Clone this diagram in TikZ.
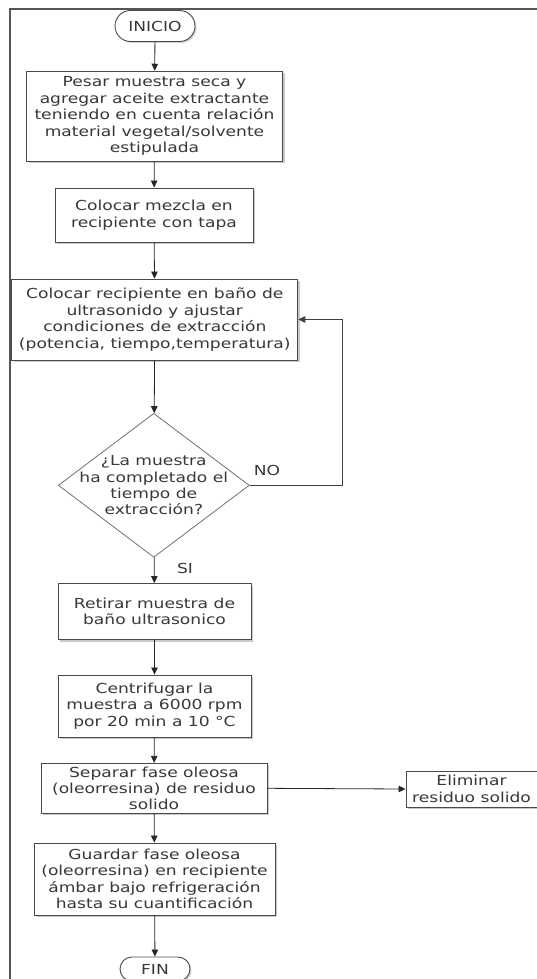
\documentclass[tikz,border=0pt]{standalone}
\usepackage{fontspec}
\setmainfont{DejaVu Sans}[FakeStretch=1.24]
\usetikzlibrary{arrows.meta,shapes.geometric,shapes.misc,shadows}
\definecolor{txt}{HTML}{383838}
\definecolor{bord}{HTML}{4A4A4A}
\definecolor{dbord}{HTML}{6E6E6E}
\definecolor{frame}{HTML}{555555}
\begin{document}
\begin{tikzpicture}[x=1pt,y=-1pt,
  every node/.style={font=\fontsize{13.8}{16.4}\selectfont, text=txt},
  proc/.style={draw=bord, line width=0.9pt, fill=white, align=center, inner sep=1pt,
    drop shadow={shadow xshift=2pt, shadow yshift=-2pt, fill=black!30, opacity=0.7}},
  term/.style={draw=bord, line width=0.9pt, fill=white, rounded rectangle, inner sep=1pt,
    drop shadow={shadow xshift=1.5pt, shadow yshift=-1.5pt, fill=black!30, opacity=0.6}},
  decision/.style={draw=dbord, line width=0.8pt, diamond, inner sep=0pt},
  lbl/.style={inner sep=0pt},
  arr/.style={draw=black!85, line width=0.8pt, -{Triangle[length=7pt,width=6.5pt]}},
]
\useasboundingbox (0,0) rectangle (537,979);
\draw[frame, line width=1.6pt] (537,9) -- (10,9) -- (10,985);

\node[term, minimum width=82pt, minimum height=31pt] (inicio) at (155,26) {INICIO};
\node[proc, minimum width=256pt, minimum height=90pt] (b1) at (154.5,116.2)
  {Pesar muestra seca y\\agregar aceite extractante\\teniendo en cuenta relación\\material vegetal/solvente\\estipulada};
\node[proc, minimum width=198pt, minimum height=54pt] (b2) at (154,215)
  {Colocar mezcla en\\recipiente con tapa};
\node[proc, minimum width=286pt, minimum height=81pt] (b3) at (154.8,319.5)
  {Colocar recipiente en baño de\\ultrasonido y ajustar\\condiciones de extracción\\(potencia, tiempo,temperatura)};
\node[decision, minimum width=191pt, minimum height=144pt] (d) at (153.8,485.3) {};
\node[lbl, align=center] (dt) at (d) {¿La muestra\\ha completado el\\tiempo de\\extracción?};
\node[proc, minimum width=193pt, minimum height=56pt] (b4) at (154.5,611.5)
  {Retirar muestra de\\baño ultrasonico};
\node[proc, minimum width=193pt, minimum height=62pt] (b5) at (154.5,706)
  {Centrifugar la\\muestra a 6000 rpm\\por 20 min a 10 °C};
\node[proc, minimum width=226pt, minimum height=50pt] (b6) at (154,788.3)
  {Separar fase oleosa\\(oleorresina) de residuo\\solido};
\node[proc, minimum width=131pt, minimum height=36pt] (elim) at (471.5,789)
  {Eliminar\\residuo solido};
\node[proc, minimum width=241pt, minimum height=72pt] (b7) at (154.5,879)
  {Guardar fase oleosa\\(oleorresina) en recipiente\\ámbar bajo refrigeración\\hasta su cuantificación};
\node[term, minimum width=72pt, minimum height=24pt] (fin) at (155,969) {FIN};

\node[lbl] (no) at (267,470) {NO};
\node[lbl] (si) at (185,568) {SI};

\draw[arr] (inicio) -- (b1);
\draw[arr] (b1) -- (b2);
\draw[arr] (b2) -- (b3);
\draw[arr] (b3) -- (d);
\draw[arr] (d) -- (b4);
\draw[arr] (b4) -- (b5);
\draw[arr] (b5) -- (b6);
\draw[arr] (b6) -- (b7);
\draw[arr] (b7) -- (fin);
\draw[arr] (b6.east) -- (elim.west);
\draw[arr, draw=black!75] (d.east) -- ++(92.5,0) |- (b3.east);
\end{tikzpicture}
\end{document}
